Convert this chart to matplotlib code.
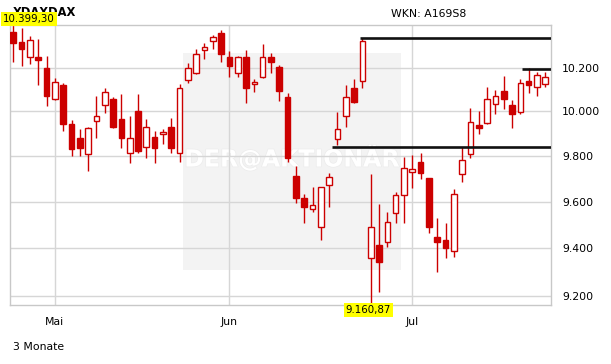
import matplotlib
matplotlib.use("Agg")
import matplotlib.pyplot as plt
import matplotlib.patheffects as pe
from matplotlib.ticker import NullLocator, NullFormatter
import numpy as np

# Tageskerzen X-DAX, 3 Monate
opens = [10368, 10318, 10248, 10248, 10197, 10057, 10121, 9942, 9879, 9808,
         9957, 10029, 10057, 9965, 9812, 10002, 9839, 9884, 9897, 9929,
         9812, 10144, 10175, 10282, 10324, 10360, 10248, 10175, 10248, 10124,
         10159, 10248, 10205, 10067, 9712, 9614, 9568, 9489, 9672, 9876,
         9980, 10105, 10139, 9356, 9413, 9427, 9549, 9629, 9728, 9772,
         9702, 9446, 9434, 9389, 9721, 9808, 9939, 9949, 10033, 10093,
         10029, 9996, 10139, 10113, 10124]
highs = [10399.30, 10384, 10348, 10334, 10254, 10154, 10128, 9961, 9921, 9931,
         10070, 10105, 10067, 10079, 9981, 10079, 9966, 9912, 9921, 9969,
         10124, 10223, 10285, 10314, 10352, 10376, 10279, 10256, 10282, 10148,
         10310, 10267, 10213, 10082, 9756, 9632, 9663, 9663, 9724, 9996,
         10121, 10148, 10337, 9721, 9590, 9554, 9643, 9795, 9805, 9812,
         9702, 9528, 9506, 9656, 9842, 10017, 10002, 10113, 10098, 10163,
         10051, 10148, 10200, 10182, 10179]
lows = [10228, 10209, 10217, 10121, 10026, 10054, 9912, 9802, 9802, 9735,
        9879, 9992, 9924, 9835, 9768, 9812, 9793, 9771, 9852, 9812,
        9772, 10128, 10172, 10239, 10285, 10225, 10159, 10156, 10040, 10090,
        10151, 10175, 10049, 9772, 9595, 9506, 9556, 9434, 9575, 9849,
        9931, 10040, 10105, 9160.87, 9214, 9406, 9506, 9508, 9658, 9699,
        9463, 9300, 9359, 9363, 9687, 9793, 9897, 9943, 9987, 10010,
        9924, 9987, 10085, 10072, 10113]
closes = [10316, 10287, 10329, 10234, 10072, 10136, 9942, 9830, 9835, 9924,
          9980, 10090, 9931, 9882, 9879, 9824, 9929, 9837, 9909, 9837,
          10105, 10197, 10262, 10298, 10342, 10262, 10209, 10251, 10105, 10133,
          10248, 10225, 10094, 9793, 9614, 9578, 9584, 9663, 9706, 9919,
          10064, 10042, 10324, 9489, 9341, 9510, 9629, 9746, 9741, 9724,
          9491, 9425, 9402, 9632, 9783, 9951, 9924, 10057, 10070, 10055,
          9987, 10128, 10121, 10165, 10156]

# Monatsanfaenge (Kerzen-Index) und Beschriftung
month_idx = [5, 26, 48]
month_labels = ["Mai", "Jun", "Jul"]

y_ticks = [9200, 9400, 9600, 9800, 10000, 10200]

# Unterstuetzungs-/Widerstandslinien: Niveau und Start-Kerze
line_levels = [10337, 9842, 10195]
line_starts = [41.7, 38.3, 61.2]

titel = "XDAXDAX"
wkn = "WKN: A169S8"
zeitraum = "3 Monate"


def de_fmt(v, dec=2):
    s = f"{v:,.{dec}f}"
    return s.replace(",", "X").replace(".", ",").replace("X", ".")


o = np.array(opens, float)
h = np.array(highs, float)
l = np.array(lows, float)
c = np.array(closes, float)
x = np.arange(len(o))

RED = "#cc0000"
GRID = "#d6d6d6"

W, H = 611, 364
fig = plt.figure(figsize=(W / 100, H / 100), dpi=100)
ax = fig.add_axes([10 / W, 59 / H, 541 / W, 280 / H])

ax.set_yscale("log")
ax.set_ylim(l.min(), h.max())
ax.set_xlim(-0.4, len(o) - 1 + 0.69)

# Wasserzeichen
ax.add_patch(plt.Rectangle((0.32, 0.125), 0.403, 0.775, transform=ax.transAxes,
                           facecolor="#f3f3f3", edgecolor="none", zorder=0))
ax.text(0.521, 0.525, "DER@AKTIONÄR", transform=ax.transAxes, ha="center",
        va="center", fontsize=17, fontweight="bold", color="white", zorder=0.5,
        path_effects=[pe.withStroke(linewidth=1, foreground="#ececec")])

# Kerzen
up = c >= o
ax.vlines(x, l, h, color=RED, linewidth=1, zorder=2)
bottoms = np.minimum(o, c)
heights = np.maximum(np.abs(c - o), 1.0)
ax.bar(x[up], heights[up], bottom=bottoms[up], width=0.68, facecolor="white",
       edgecolor=RED, linewidth=1, zorder=3)
ax.bar(x[~up], heights[~up], bottom=bottoms[~up], width=0.68, facecolor=RED,
       edgecolor=RED, linewidth=1, zorder=3)

# Linien
xr = ax.get_xlim()[1]
for lev, st in zip(line_levels, line_starts):
    ax.hlines(lev, st, xr, color="#111111", linewidth=1.9, zorder=4)

# Achsen
ax.yaxis.set_minor_locator(NullLocator())
ax.yaxis.set_minor_formatter(NullFormatter())
ax.set_yticks(y_ticks)
ax.set_yticklabels([de_fmt(v, 0) for v in y_ticks])
ax.yaxis.tick_right()
ax.set_xticks(month_idx)
ax.set_xticklabels(month_labels)
ax.tick_params(axis="both", length=0, labelsize=7.8, colors="black")
ax.tick_params(axis="y", pad=8)
ax.tick_params(axis="x", pad=8.5)
ax.grid(True, color=GRID, linewidth=1, zorder=1)
ax.set_axisbelow(True)
for sp in ax.spines.values():
    sp.set_color("#c8c8c8")
    sp.set_linewidth(1)

# Texte (Titel wird wie im Original teilweise vom Hoch-Label verdeckt)
fig.text(12.5 / W, 1 - 12.5 / H, titel, fontsize=8.3, fontweight="bold",
         va="center", ha="left")
fig.text(3 / W, 1 - 18.7 / H, de_fmt(h.max()), fontsize=7.4, va="center",
         ha="left", bbox=dict(boxstyle="square,pad=0.18", fc="#ffff00", ec="none"))
fig.text(391 / W, 1 - 14 / H, wkn, fontsize=7.8, va="center", ha="left")
fig.text(12.5 / W, 1 - 346.7 / H, zeitraum, fontsize=7.8, va="center", ha="left")

imin = int(np.argmin(l))
ax.text(imin - 0.3, l.min(), de_fmt(l.min()), fontsize=7.4, ha="center",
        va="top", clip_on=False, zorder=5,
        bbox=dict(boxstyle="square,pad=0.18", fc="#ffff00", ec="none"))

fig.savefig("out.png", dpi=100)
